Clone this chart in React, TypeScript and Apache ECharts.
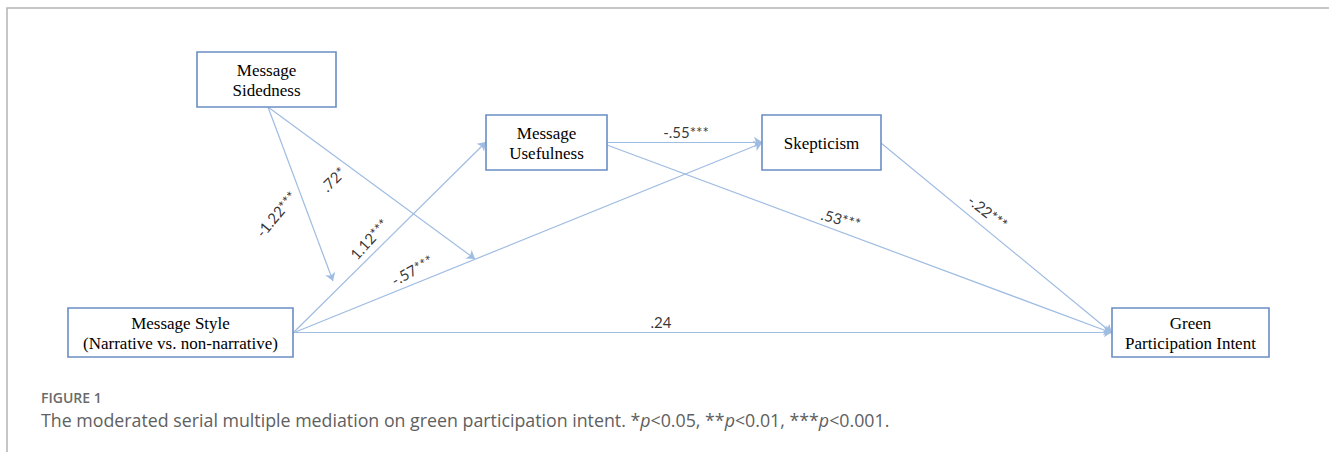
import React, { useEffect, useRef } from "react";
import * as echarts from "echarts";

const W = 1329;
const H = 452;

// ---- data ----
const nodeNames = [
  "Message\nSidedness",
  "Message\nUsefulness",
  "Skepticism",
  "Message Style\n(Narrative vs. non-narrative)",
  "Green\nParticipation Intent",
];

const pathLabels = ["-1.22***", ".72*", "1.12***", "-.57***", "-.55***", ".53***", "-.22***", ".24"];
const pathSource = [0, 0, 3, 3, 1, 1, 2, 3];
const pathTarget = ["path 3", "path 4", 1, 2, 2, 4, 4, 4];

const figureLabel = "FIGURE 1";
const captionParts = [
  "The moderated serial multiple mediation on green participation intent. *",
  "p",
  "<0.05, **",
  "p",
  "<0.01, ***",
  "p",
  "<0.001.",
];

// ---- layout (pixels) ----
const NODE_BOX = [
  [197, 52, 336, 107],
  [486, 115, 607, 170],
  [762, 115, 881, 170],
  [68, 308, 293, 357],
  [1112, 308, 1269, 357],
];

const PATH_ENDS = [
  [[268, 107], [333, 281]],
  [[268, 107], [475, 259]],
  [[293, 333], [486, 142]],
  [[293, 333], [762, 143]],
  [[607, 142], [762, 142]],
  [[607, 145], [1112, 333]],
  [[881, 143], [1112, 333]],
  [[293, 332], [1112, 332]],
];

const LABEL_POS = [
  [276, 214, 50],
  [333, 179, 45],
  [369, 239, 48],
  [412, 270, 30],
  [686, 132, 0],
  [841, 219, -15],
  [988, 212, -38],
  [661, 322, 0],
];

const LINE_COLOR = "#9fbce2";
const BOX_COLOR = "#6a8ec5";
const CAPTION_COLOR = "#606060";

export default function App() {
  const ref = useRef<HTMLDivElement>(null);

  useEffect(() => {
    if (!ref.current) return;
    const chart = echarts.init(ref.current, null, { renderer: "svg" });

    const nodeData = nodeNames.map((name, i) => {
      const [x0, y0, x1, y1] = NODE_BOX[i];
      return { name, value: [x0, y0, x1, y1] };
    });

    const lineData = pathLabels.map((lab, i) => ({
      name: lab,
      coords: PATH_ENDS[i],
    }));

    const labelData = pathLabels.map((lab, i) => ({
      name: lab,
      value: [LABEL_POS[i][0], LABEL_POS[i][1]],
      label: { rotate: LABEL_POS[i][2] },
    }));

    const CAP_SIZE = 17.8;
    const rich: any = {
      n: { fontFamily: "Open Sans", fontSize: CAP_SIZE, color: CAPTION_COLOR },
      i: { fontFamily: "Open Sans", fontSize: CAP_SIZE, color: CAPTION_COLOR, fontStyle: "italic" },
    };
    const caption = captionParts
      .map((p, i) => (i % 2 === 1 ? `{i|${p}}` : `{n|${p}}`))
      .join("");

    chart.setOption({
      animation: false,
      backgroundColor: "#ffffff",
      title: {
        text: figureLabel,
        subtext: caption,
        left: 41,
        top: 390,
        padding: 0,
        itemGap: 7,
        textStyle: {
          fontFamily: "Open Sans",
          fontSize: 14,
          fontWeight: 600,
          color: "#6a6a6a",
        },
        subtextStyle: { rich, fontFamily: "Open Sans", fontSize: CAP_SIZE, color: CAPTION_COLOR },
      },
      grid: { left: 0, right: 0, top: 0, bottom: 0 },
      xAxis: { type: "value", min: 0, max: W, show: false },
      yAxis: { type: "value", min: 0, max: H, inverse: true, show: false },
      graphic: [
        {
          type: "polyline",
          shape: { points: [[7, H], [7, 8], [W, 8]] },
          style: { stroke: "#b4b4b4", lineWidth: 1.5, fill: null },
          silent: true,
        },
      ],
      series: [
        {
          type: "lines",
          coordinateSystem: "cartesian2d",
          data: lineData,
          symbol: ["none", "arrow"],
          symbolSize: 8,
          lineStyle: { color: LINE_COLOR, width: 1.2, opacity: 1 },
          z: 2,
        },
        {
          type: "custom",
          data: nodeData,
          renderItem: (params: any, api: any) => {
            const p0 = api.coord([api.value(0), api.value(1)]);
            const p1 = api.coord([api.value(2), api.value(3)]);
            const name = nodeNames[params.dataIndex];
            return {
              type: "group",
              children: [
                {
                  type: "rect",
                  shape: { x: p0[0], y: p0[1], width: p1[0] - p0[0], height: p1[1] - p0[1] },
                  style: { fill: "#ffffff", stroke: BOX_COLOR, lineWidth: 1.6 },
                },
                {
                  type: "text",
                  x: (p0[0] + p1[0]) / 2,
                  y: (p0[1] + p1[1]) / 2 + 1,
                  style: {
                    text: name,
                    fontFamily: "Liberation Serif",
                    fontSize: 17,
                    lineHeight: 20,
                    fill: "#000000",
                    align: "center",
                    verticalAlign: "middle",
                  },
                },
              ],
            };
          },
          z: 3,
        },
        {
          type: "scatter",
          data: labelData,
          symbolSize: 0,
          label: {
            show: true,
            position: "inside",
            formatter: "{b}",
            fontFamily: "Lato",
            fontSize: 15,
            color: "#000000",
          },
          z: 4,
        },
      ],
    });

    return () => chart.dispose();
  }, []);

  return (
    <div
      ref={ref}
      style={{ position: "fixed", left: 0, top: 0, width: W, height: H, background: "#fff" }}
    />
  );
}
